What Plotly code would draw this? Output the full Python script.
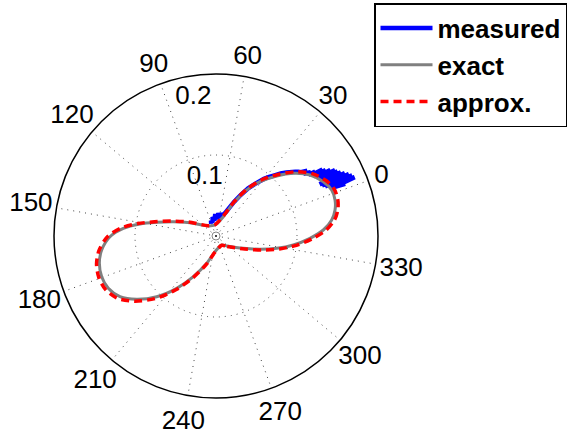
import plotly.graph_objects as go

# ---- data (angles in degrees, radius in plot units) ----
theta_exact = [-77.7, -63.1, -44.3, -36.8, -31.5, -26.6, -21.4, -16.8, -12.1, -7.7, -3.2, 1.7,
               6.8, 13.0, 19.0, 24.7, 31.0, 36.3, 42.1, 49.3, 75.2, 107.6,
               132.9, 141.5, 147.0, 151.0, 155.3, 160.4, 167.0, 173.2, 179.6, 185.9,
               192.3, 198.6, 205.7, 213.1, 220.9, 231.2, 246.4, 282.3]
r_exact = [0.0131, 0.018, 0.037, 0.0567, 0.0765, 0.0961, 0.116, 0.1327, 0.1442, 0.1504, 0.1535, 0.1537,
           0.1485, 0.1384, 0.1229, 0.1054, 0.0863, 0.0683, 0.0457, 0.0255, 0.0136, 0.0156,
           0.036, 0.0556, 0.0751, 0.095, 0.1148, 0.1309, 0.1422, 0.1479, 0.1498, 0.1478,
           0.1402, 0.1253, 0.1048, 0.0808, 0.0575, 0.0356, 0.0194, 0.0131]

theta_approx = theta_exact
r_approx = [0.0135, 0.019, 0.039, 0.060, 0.080, 0.100, 0.120, 0.1365, 0.148, 0.154, 0.157, 0.157,
            0.152, 0.1415, 0.126, 0.108, 0.089, 0.0705, 0.048, 0.027, 0.014, 0.016,
            0.038, 0.058, 0.078, 0.098, 0.118, 0.134, 0.1455, 0.1515, 0.1535, 0.1515,
            0.144, 0.129, 0.108, 0.0835, 0.0595, 0.037, 0.020, 0.0135]

theta_meas = [92, 88, 84, 80, 76, 72, 68, 64, 60, 56, 52, 48, 45, 42, 39, 36, 33, 30, 28, 26,
              24, 22, 20, 19, 18, 17, 16, 15, 14, 13.5, 13, 12.5, 12, 11.5, 11, 10.5, 10,
              9.5, 9, 8.5, 8, 7.5, 7, 6.5, 6, 5.5, 5, 4.5, 4, 3.5, 3, 2.5, 2]
r_meas = [0.016, 0.020, 0.017, 0.024, 0.019, 0.027, 0.021, 0.028, 0.025, 0.027, 0.027, 0.031,
          0.038, 0.048, 0.059, 0.071, 0.081, 0.092, 0.098, 0.104, 0.111, 0.117, 0.123, 0.126,
          0.129, 0.131, 0.136, 0.135, 0.141, 0.137, 0.146, 0.140, 0.155, 0.141, 0.158, 0.143,
          0.163, 0.145, 0.168, 0.146, 0.170, 0.147, 0.173, 0.143, 0.177, 0.145, 0.181, 0.148,
          0.184, 0.152, 0.186, 0.158, 0.172]

angle_ticks = [0, 30, 60, 90, 120, 150, 180, 210, 240, 270, 300, 330]
angle_labels = [str(a) for a in angle_ticks]
radial_ticks = [0.1, 0.2]
radial_labels = ["0.1", "0.2"]
radial_label_theta = 78

R_MAX = 0.2
R_LABEL_MAX = 0.236         # range of the overlay used for the angle labels
FONT = "Liberation Sans, Arial, Helvetica, sans-serif"

# geometry (pixels) of the polar plot inside the 568x432 figure
W, H = 568, 432
CX, CY, RAD = 216, 236, 162
LABEL_DY = 1                # small downward nudge of the angle-label layer
RAD2 = RAD * R_LABEL_MAX / R_MAX


def dom(cx, cy, rad):
    return dict(x=[(cx - rad) / W, (cx + rad) / W], y=[(H - cy - rad) / H, (H - cy + rad) / H])


fig = go.Figure()
fig.add_trace(go.Scatterpolar(r=r_meas, theta=theta_meas, mode="lines", name="measured",
                              line=dict(color="rgb(0,0,255)", width=4.5)))
fig.add_trace(go.Scatterpolar(r=r_exact, theta=theta_exact, mode="lines", name="exact",
                              line=dict(color="rgb(128,128,128)", width=3, shape="spline", smoothing=0.8)))
fig.add_trace(go.Scatterpolar(r=r_approx, theta=theta_approx, mode="lines", name="approx.",
                              line=dict(color="rgb(255,0,0)", width=3.5, dash="8px,5px",
                                        shape="spline", smoothing=0.8)))
# center marker
fig.add_trace(go.Scatterpolar(r=[0], theta=[0], mode="markers", showlegend=False, hoverinfo="skip",
                              marker=dict(symbol="circle-open", size=8, color="#888",
                                          line=dict(width=1, color="#888"))))
# radial tick labels (invisible marker pushes the text just inside each ring)
fig.add_trace(go.Scatterpolar(r=radial_ticks, theta=[radial_label_theta] * len(radial_ticks),
                              mode="markers+text", text=radial_labels, textposition="bottom center",
                              marker=dict(size=12, color="rgba(0,0,0,0)"),
                              textfont=dict(family=FONT, size=26, color="black"),
                              showlegend=False, hoverinfo="skip", cliponaxis=False))
# angular tick labels, centred just outside the outer ring (on a concentric overlay)
label_r = [R_MAX * (170 + 6 * len(t)) / RAD for t in angle_labels]
fig.add_trace(go.Scatterpolar(r=label_r, theta=angle_ticks, mode="text", text=angle_labels,
                              textposition="middle center", subplot="polar2",
                              textfont=dict(family=FONT, size=26, color="black"),
                              showlegend=False, hoverinfo="skip", cliponaxis=False))

fig.update_layout(
    width=W, height=H,
    margin=dict(l=0, r=0, t=0, b=0),
    paper_bgcolor="white",
    font=dict(family=FONT, size=26, color="black"),
    polar=dict(
        domain=dom(CX, CY, RAD),
        bgcolor="white",
        angularaxis=dict(rotation=20, direction="counterclockwise",
                         tickmode="array", tickvals=angle_ticks, showticklabels=False,
                         ticks="", showline=True, linecolor="black", linewidth=1.5,
                         gridcolor="#444", griddash="1px,5px", gridwidth=1.2),
        radialaxis=dict(range=[0, R_MAX], tickmode="array", tickvals=radial_ticks,
                        showticklabels=False, ticks="", showline=False,
                        gridcolor="#444", griddash="1px,5px", gridwidth=1.2),
    ),
    polar2=dict(
        domain=dom(CX, CY + LABEL_DY, RAD2),
        bgcolor="rgba(0,0,0,0)",
        angularaxis=dict(rotation=20, direction="counterclockwise", visible=False,
                         showgrid=False, showline=False, showticklabels=False, ticks=""),
        radialaxis=dict(range=[0, R_LABEL_MAX], visible=False, showgrid=False,
                        showline=False, showticklabels=False, ticks=""),
    ),
    legend=dict(x=567 / 568, y=1 - 3 / 432, xanchor="right", yanchor="top",
                bgcolor="white", bordercolor="black", borderwidth=1.5,
                font=dict(family=FONT, size=26, color="black", weight="bold"),
                itemwidth=52, tracegroupgap=0),
)

fig.write_html("out.html", config={"displayModeBar": False},
               post_script="document.body.style.margin='0';")
